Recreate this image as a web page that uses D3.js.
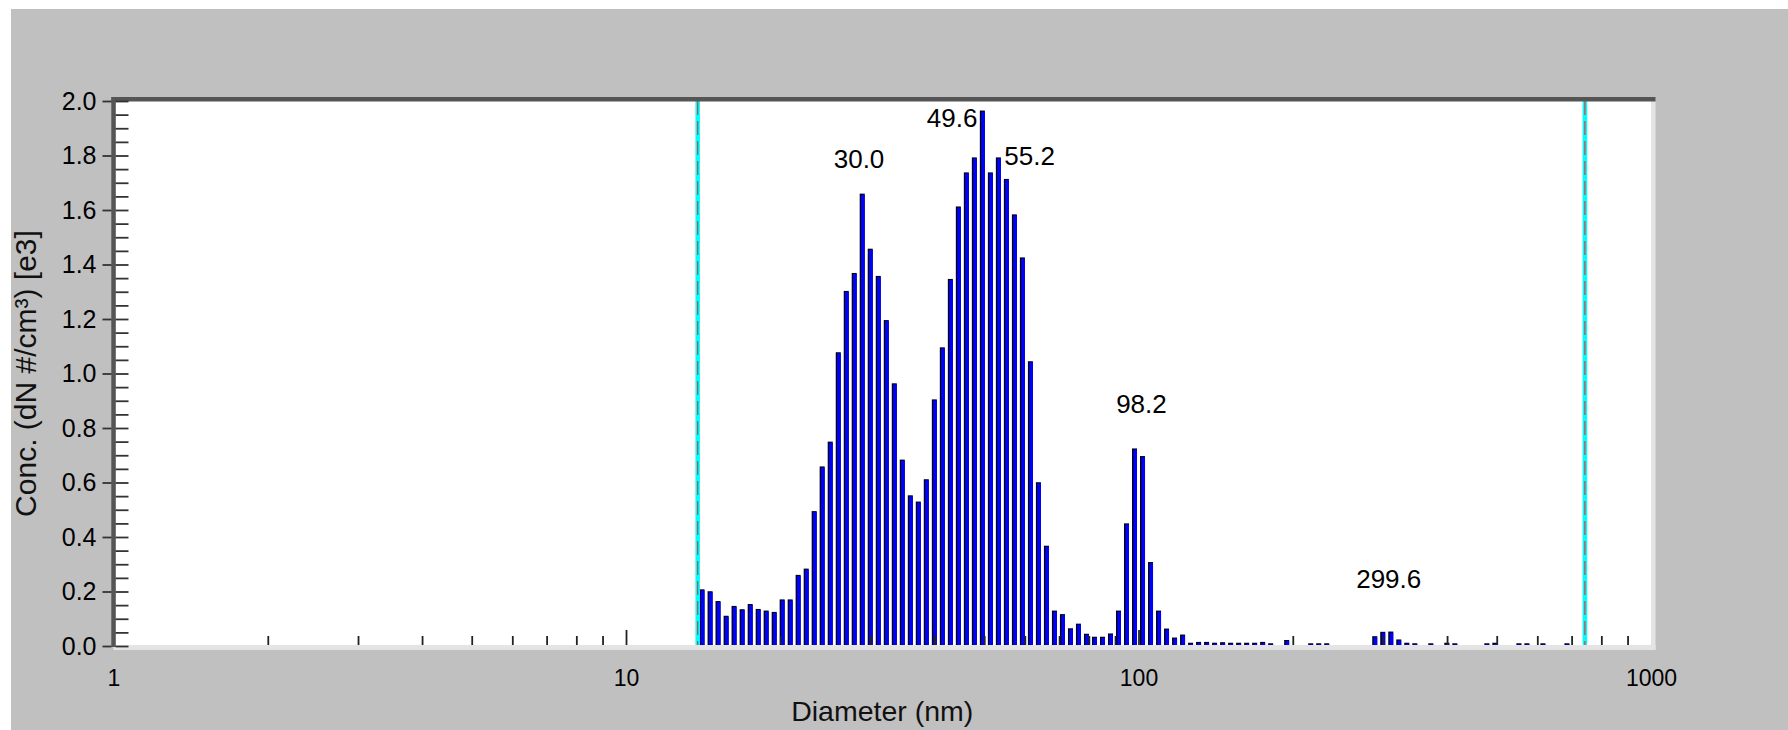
<!DOCTYPE html>
<html>
<head>
<meta charset="utf-8">
<script src="https://cdn.jsdelivr.net/npm/d3@7"></script>
<style>
html,body{margin:0;padding:0;background:#fff;}
svg{display:block;font-family:'Liberation Sans',Arial,sans-serif;}
</style>
</head>
<body>
<svg id="chart" width="1788" height="730"></svg>
<script>
// bin centres (nm) and concentration (e3 #/cm3)
const diameters = [
  14.07, 14.59, 15.12, 15.68, 16.25, 16.85, 17.47, 18.11, 18.77, 19.46,
  20.17, 20.91, 21.67, 22.47, 23.29, 24.14, 25.03, 25.95, 26.90, 27.88,
  28.90, 29.96, 31.06, 32.20, 33.38, 34.60, 35.87, 37.18, 38.54, 39.96,
  41.42, 42.94, 44.51, 46.14, 47.83, 49.58, 51.40, 53.28, 55.23, 57.26,
  59.35, 61.53, 63.78, 66.12, 68.54, 71.05, 73.66, 76.35, 79.15, 82.05,
  85.06, 88.17, 91.40, 94.75, 98.22, 101.82, 105.55, 109.42, 113.42, 117.58,
  121.89, 126.35, 130.98, 135.78, 140.75, 145.91, 151.25, 156.79, 162.54, 168.49,
  174.66, 181.06, 194.57, 216.75, 224.69, 232.92, 289.03, 299.62, 310.60, 321.97,
  333.77, 346.00, 371.81, 399.55, 414.19, 478.30, 495.82, 552.33, 572.57, 615.29,
  685.42
]
const concentrations = [
  0.208, 0.201, 0.165, 0.111, 0.147, 0.135, 0.154, 0.136, 0.130, 0.125,
  0.171, 0.171, 0.261, 0.284, 0.495, 0.659, 0.750, 1.078, 1.303, 1.369,
  1.660, 1.458, 1.358, 1.196, 0.964, 0.684, 0.553, 0.530, 0.612, 0.905,
  1.096, 1.347, 1.613, 1.738, 1.793, 1.965, 1.738, 1.793, 1.714, 1.584,
  1.426, 1.045, 0.601, 0.368, 0.130, 0.117, 0.065, 0.082, 0.045, 0.034,
  0.034, 0.046, 0.130, 0.450, 0.725, 0.697, 0.308, 0.130, 0.064, 0.031,
  0.042, 0.012, 0.015, 0.015, 0.012, 0.014, 0.012, 0.012, 0.012, 0.012,
  0.015, 0.010, 0.022, 0.010, 0.010, 0.010, 0.036, 0.052, 0.053, 0.024,
  0.012, 0.010, 0.010, 0.012, 0.010, 0.010, 0.012, 0.010, 0.010, 0.010,
  0.010
]
const yTicks = [0, 0.2, 0.4, 0.6, 0.8, 1.0, 1.2, 1.4, 1.6, 1.8, 2.0]
const yMinorTicks = d3.range(0, 41).map(i => i / 20)
const xTickLabels = [1, 10, 100, 1000]
const xDecadeTicks = [10, 100]
const xMinorTicks = [2, 3, 4, 5, 6, 7, 8, 9, 20, 30, 40, 50, 60, 70, 80, 90, 200, 300, 400, 500, 600, 700, 800, 900]
const cursors = [13.8, 743]
const peakDiameters = [30.0, 49.6, 55.2, 98.2, 299.6]
const peakTexts = ['30.0', '49.6', '55.2', '98.2', '299.6']
const xTitle = 'Diameter (nm)'
const yTitle = 'Conc. (dN #/cm\u00b3) [e3]'

const bars = diameters.map((d, i) => ({d: d, v: concentrations[i]}))
const FONT = "'Liberation Sans',Arial,sans-serif"

const svg = d3.select('#chart')
const x = d3.scaleLog().domain([1, 1000]).range([113.5, 1651])
const y = d3.scaleLinear().domain([0, 2]).range([646, 101])

svg.append('rect').attr('x', 11).attr('y', 9).attr('width', 1777).attr('height', 721).attr('fill', '#c0c0c0')

// plot area
svg.append('rect')
  .attr('x', x(1)).attr('y', y(2))
  .attr('width', x(1000) - x(1)).attr('height', y(0) - y(2))
  .attr('fill', '#fff')

// bars: black left edge + blue body
const barG = svg.append('g').attr('class', 'bars')
barG.selectAll('rect.edge')
  .data(bars)
  .enter()
  .append('rect')
  .attr('class', 'edge')
  .attr('x', d => x(d.d) - 2.5)
  .attr('y', d => y(d.v))
  .attr('width', 5)
  .attr('height', d => y(0) - y(d.v))
  .attr('fill', '#000')
barG.selectAll('rect.body')
  .data(bars)
  .enter()
  .append('rect')
  .attr('class', 'body')
  .attr('x', d => x(d.d) - 1.2)
  .attr('y', d => y(d.v) + 1)
  .attr('width', 3.7)
  .attr('height', d => Math.max(0, y(0) - y(d.v) - 1))
  .attr('fill', '#0000ff')

// cursors
const curG = svg.append('g').selectAll('g').data(cursors).enter().append('g')
curG.append('line')
  .attr('x1', d => x(d)).attr('x2', d => x(d))
  .attr('y1', y(2)).attr('y2', y(0))
  .attr('stroke', '#00ffff').attr('stroke-width', 4.5)
curG.append('line')
  .attr('x1', d => x(d)).attr('x2', d => x(d))
  .attr('y1', y(2)).attr('y2', y(0))
  .attr('stroke', '#c05050').attr('stroke-width', 1.3)
  .attr('stroke-dasharray', '14,6')

// x ticks inside the plot
svg.append('g')
  .attr('transform', 'translate(0,' + y(0) + ')')
  .call(d3.axisTop(x).tickValues(xMinorTicks).tickSize(10).tickFormat(''))
  .call(g => g.select('.domain').remove())
  .call(g => g.selectAll('line').attr('stroke', '#222').attr('stroke-width', 1.8))
svg.append('g')
  .attr('transform', 'translate(0,' + y(0) + ')')
  .call(d3.axisTop(x).tickValues(xDecadeTicks).tickSize(16).tickFormat(''))
  .call(g => g.select('.domain').remove())
  .call(g => g.selectAll('line').attr('stroke', '#222').attr('stroke-width', 1.8))

// frame
svg.append('rect').attr('x', x(1000)).attr('y', y(2)).attr('width', 4.5).attr('height', y(0) - y(2) + 4).attr('fill', '#e4e4e4')
svg.append('rect').attr('x', x(1)).attr('y', y(0) - 1).attr('width', x(1000) - x(1) + 4.5).attr('height', 5).attr('fill', '#e4e4e4')
svg.append('rect').attr('x', x(1) - 2).attr('y', y(2) - 4).attr('width', x(1000) - x(1) + 6.5).attr('height', 4.5).attr('fill', '#555')
svg.append('rect').attr('x', x(1) - 2.2).attr('y', y(2) - 4).attr('width', 4.5).attr('height', y(0) - y(2) + 5).attr('fill', '#555')

// y axis
svg.append('g')
  .attr('transform', 'translate(' + (x(1) - 2) + ',0)')
  .call(d3.axisLeft(y).tickValues(yTicks).tickSize(9).tickPadding(6).tickFormat(d3.format('.1f')))
  .call(g => g.select('.domain').remove())
  .call(g => g.selectAll('line').attr('stroke', '#333').attr('stroke-width', 1.8))
  .call(g => g.selectAll('text').attr('font-size', 25).attr('fill', '#000').attr('font-family', FONT))
svg.append('g')
  .attr('transform', 'translate(' + (x(1) + 2) + ',0)')
  .call(d3.axisRight(y).tickValues(yMinorTicks).tickSize(13).tickFormat(''))
  .call(g => g.select('.domain').remove())
  .call(g => g.selectAll('line').attr('stroke', '#333').attr('stroke-width', 1.8))

// x labels
svg.append('g')
  .attr('transform', 'translate(0,' + y(0) + ')')
  .call(d3.axisBottom(x).tickValues(xTickLabels).tickSize(0).tickPadding(24).tickFormat(d3.format('d')))
  .call(g => g.select('.domain').remove())
  .call(g => g.selectAll('text').attr('font-size', 23).attr('fill', '#000').attr('font-family', FONT))

// peak labels
const labelLayout = [
  {anchor: 'middle', dx: -11.5, dy: -35},
  {anchor: 'end', dx: -5, dy: 7.5},
  {anchor: 'start', dx: -2, dy: -2},
  {anchor: 'middle', dx: 7, dy: -45},
  {anchor: 'middle', dx: 6, dy: -53}
]
function localMax(p) {
  let best = 0, bi = 0
  bars.forEach((b, i) => {
    if (Math.abs(Math.log(b.d / p)) < Math.abs(Math.log(bars[bi].d / p))) bi = i
  })
  for (let j = bi - 1; j <= bi + 1; j++) {
    if (bars[j] && Math.abs(Math.log(bars[j].d / bars[bi].d)) < 0.04) best = Math.max(best, bars[j].v)
  }
  return best
}
svg.append('g')
  .selectAll('text')
  .data(peakDiameters)
  .enter()
  .append('text')
  .attr('x', (d, i) => x(d) + labelLayout[i].dx)
  .attr('y', (d, i) => y(localMax(d)) + labelLayout[i].dy)
  .attr('dy', '0.36em')
  .attr('text-anchor', (d, i) => labelLayout[i].anchor)
  .attr('font-size', 26)
  .attr('fill', '#000')
  .text((d, i) => peakTexts[i])

// titles
svg.append('text')
  .attr('x', (x(1) + x(1000)) / 2)
  .attr('y', 721)
  .attr('text-anchor', 'middle')
  .attr('font-size', 28.5)
  .attr('fill', '#111')
  .text(xTitle)
svg.append('text')
  .attr('transform', 'translate(25,' + (y(0) + y(2)) / 2 + ') rotate(-90)')
  .attr('dy', '0.35em')
  .attr('text-anchor', 'middle')
  .attr('font-size', 30)
  .attr('fill', '#111')
  .text(yTitle)
</script>
</body>
</html>
